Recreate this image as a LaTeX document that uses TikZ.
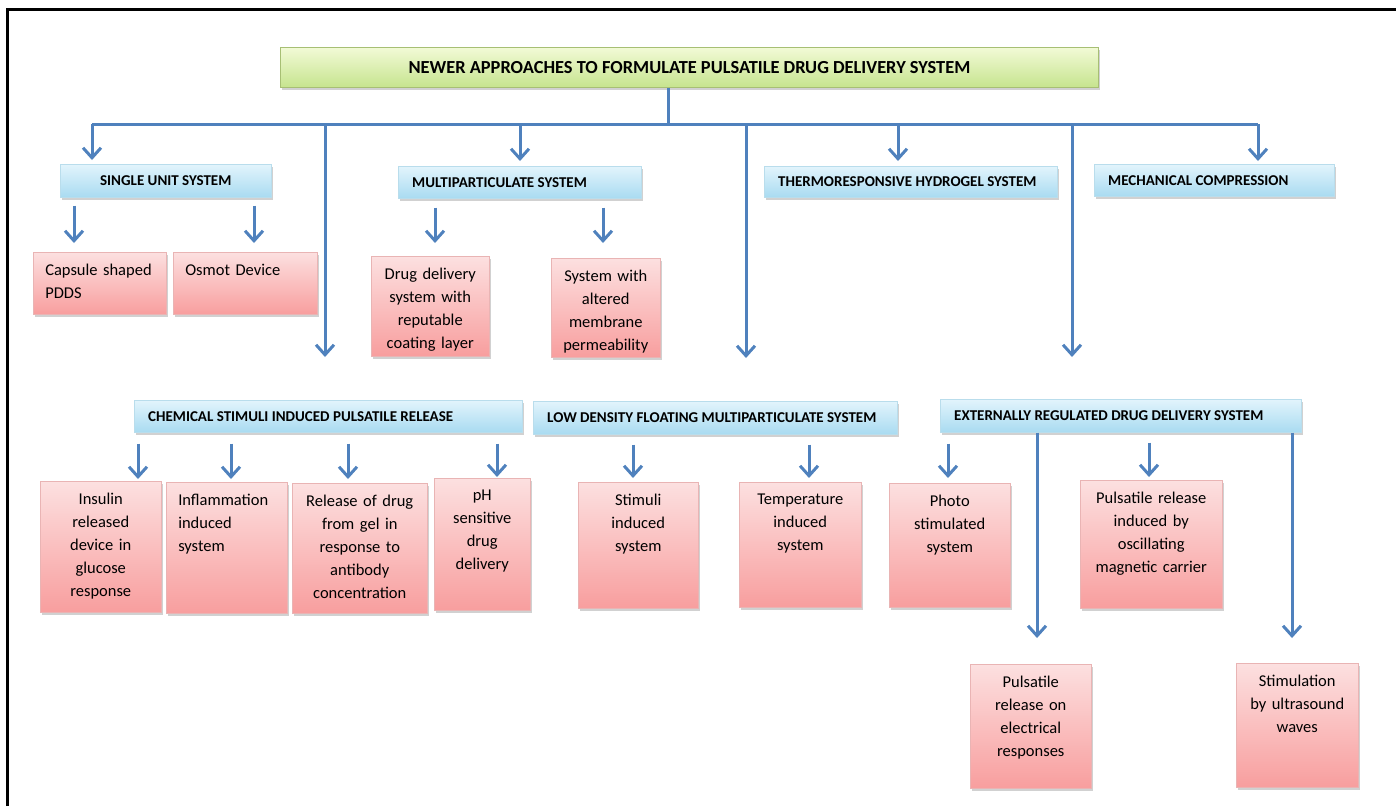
\documentclass[tikz,border=0pt]{standalone}
\usepackage{fontspec}
\setmainfont{Carlito}
\usetikzlibrary{arrows.meta,shadows}
\definecolor{arrowblue}{HTML}{4F81BD}
\definecolor{pinktop}{HTML}{FCE0E0}
\definecolor{pinkbot}{HTML}{F89E9E}
\definecolor{pinkedge}{HTML}{E9B4B4}
\definecolor{bluetop}{HTML}{E2F4FC}
\definecolor{bluebot}{HTML}{A9DBF1}
\definecolor{blueedge}{HTML}{B9DDEC}
\definecolor{greentop}{HTML}{F2FAD6}
\definecolor{greenbot}{HTML}{C6E48E}
\definecolor{greenedge}{HTML}{A7BF74}
\tikzset{
  conn/.style={draw=arrowblue, line width=3pt},
  arr/.style={conn, -{Straight Barb[length=10pt,width=18pt]}},
  boxshadow/.style={drop shadow={shadow xshift=1.5pt,shadow yshift=-2.5pt,opacity=0.3,fill=black!60}},
  pinkbox/.style={anchor=north west, inner sep=0pt, draw=pinkedge, line width=0.5pt,
    top color=pinktop, bottom color=pinkbot, boxshadow},
  bluebox/.style={anchor=north west, inner sep=0pt, draw=blueedge, line width=0.5pt,
    top color=bluetop, bottom color=bluebot, boxshadow},
  titlebox/.style={anchor=north west, inner sep=0pt, draw=greenedge, line width=0.8pt,
    top color=greentop, bottom color=greenbot, boxshadow},
  ptext/.style={inner sep=0pt, font=\fontsize{16.5}{23}\selectfont},
  btext/.style={inner sep=0pt, font=\fontsize{15}{18}\selectfont\bfseries},
  ttext/.style={inner sep=0pt, font=\fontsize{18.4}{22}\selectfont\bfseries},
  frame/.style={draw=black, line width=3pt}
}
% name, x1, y1, x2, y2, text   (centred text)
\newcommand\pinkc[6]{%
  \pgfmathsetmacro\bw{#4-#2}\pgfmathsetmacro\bh{#5-#3}\pgfmathsetmacro\tw{#4-#2-8}%
  \node[pinkbox, minimum width=\bw pt, minimum height=\bh pt] (#1) at (#2,#3) {};
  \node[ptext, text width=\tw pt, align=center, anchor=north] (#1t) at ([yshift=-12pt]#1.north) {#6};
}
% name, x1, y1, x2, y2, text   (left text)
\newcommand\pinkl[6]{%
  \pgfmathsetmacro\bw{#4-#2}\pgfmathsetmacro\bh{#5-#3}\pgfmathsetmacro\tw{#4-#2-24}%
  \node[pinkbox, minimum width=\bw pt, minimum height=\bh pt] (#1) at (#2,#3) {};
  \node[ptext, text width=\tw pt, align=left, anchor=north] (#1t) at ([yshift=-12pt]#1.north) {#6};
}
% name, x1, y1, x2, y2, text   (left text, blue)
\newcommand\bluel[6]{%
  \pgfmathsetmacro\bw{#4-#2}\pgfmathsetmacro\bh{#5-#3}%
  \node[bluebox, minimum width=\bw pt, minimum height=\bh pt] (#1) at (#2,#3) {};
  \node[btext, anchor=west] (#1t) at ([xshift=14pt]#1.west) {#6};
}
\begin{document}
\begin{tikzpicture}[x=1pt,y=-1pt]
\useasboundingbox (0,0) rectangle (1396,806);
% frame (top and left only)
\coordinate (fbl) at (7,806);
\coordinate (ftl) at (7,9);
\coordinate (ftr) at (1396,9);
\draw[frame] (fbl) -- (ftl) -- (ftr);

% title
\node[titlebox, minimum width=818pt, minimum height=40pt] (title) at (280,47) {};
\node[ttext] (titlet) at (title.center) {NEWER APPROACHES TO FORMULATE PULSATILE DRUG DELIVERY SYSTEM};

% first-level boxes
\node[bluebox, minimum width=211pt, minimum height=33pt] (single) at (60,164) {};
\node[btext] (singlet) at (single.center) {SINGLE UNIT SYSTEM};
\bluel{multi}{398}{166}{641}{198}{MULTIPARTICULATE SYSTEM}
\bluel{thermo}{764}{166}{1057}{197}{THERMORESPONSIVE HYDROGEL SYSTEM}
\bluel{mech}{1094}{164}{1334}{196}{MECHANICAL COMPRESSION}
\bluel{chem}{134}{400}{522}{432}{CHEMICAL STIMULI INDUCED PULSATILE RELEASE}
\bluel{lowd}{533}{401}{897}{434}{LOW DENSITY FLOATING MULTIPARTICULATE SYSTEM}
\bluel{ext}{940}{399}{1301}{432}{EXTERNALLY REGULATED DRUG DELIVERY SYSTEM}

% pink boxes, row 1
\pinkl{caps}{33}{252}{166}{314}{Capsule shaped\\PDDS}
\pinkl{osmot}{173}{252}{317}{314}{Osmot Device}
\pinkc{drug}{371}{256}{489}{356}{Drug delivery\\system with\\reputable\\coating layer}
\pinkc{sysalt}{551}{258}{660}{357}{System with\\altered\\membrane\\permeability}

% pink boxes, row 2
\pinkc{insulin}{40}{481}{161}{612}{Insulin\\released\\device in\\glucose\\response}
\pinkl{inflam}{166}{482}{287}{613}{Inflammation\\induced\\system}
\pinkc{release}{292}{483}{427}{613}{Release of drug\\from gel in\\response to\\antibody\\concentration}
\pinkc{ph}{434}{478}{530}{610}{pH\\sensitive\\drug\\delivery}
\pinkc{stimuli}{578}{482}{698}{608}{Stimuli\\induced\\system}
\pinkc{temp}{739}{482}{861}{607}{Temperature\\induced\\system}
\pinkc{photo}{889}{483}{1010}{607}{Photo\\stimulated\\system}
\pinkc{pulsmag}{1080}{480}{1222}{608}{Pulsatile release\\induced by\\oscillating\\magnetic carrier}
\pinkc{pulselec}{970}{664}{1091}{788}{Pulsatile\\release on\\electrical\\responses}
\pinkc{ultra}{1236}{663}{1358}{787}{Stimulation\\by ultrasound\\waves}

% bus from title
\coordinate (bus) at (668,124);
\coordinate (k1) at (92,124);
\coordinate (k2) at (325,124);
\coordinate (k3) at (520,124);
\coordinate (k4) at (746,124);
\coordinate (k5) at (898,124);
\coordinate (k6) at (1072,124);
\coordinate (k7) at (1258,124);
\draw[conn] (title.south -| bus) -- (bus);
\draw[conn] (k1) -- (k7);
\draw[arr, shorten >=4pt] (k1) -- (k1 |- single.north);
\draw[arr, shorten >=43pt] (k2) -- (k2 |- chem.north);
\draw[arr, shorten >=5pt] (k3) -- (k3 |- multi.north);
\draw[arr, shorten >=43pt] (k4) -- (k4 |- lowd.north);
\draw[arr, shorten >=5pt] (k5) -- (k5 |- thermo.north);
\draw[arr, shorten >=42pt] (k6) -- (k6 |- ext.north);
\draw[arr, shorten >=3pt] (k7) -- (k7 |- mech.north);

% arrows to row-1 pink boxes
\coordinate (p1) at (74,0);
\coordinate (p2) at (254,0);
\coordinate (p3) at (435,0);
\coordinate (p4) at (603,0);
\draw[arr, shorten <=8pt, shorten >=9pt] (single.south -| p1) -- (caps.north -| p1);
\draw[arr, shorten <=8pt, shorten >=9pt] (single.south -| p2) -- (osmot.north -| p2);
\draw[arr, shorten <=9pt, shorten >=13pt] (multi.south -| p3) -- (drug.north -| p3);
\draw[arr, shorten <=9pt, shorten >=15pt] (multi.south -| p4) -- (sysalt.north -| p4);

% arrows to row-2 pink boxes
\coordinate (r1) at (138,0);
\coordinate (r2) at (231,0);
\coordinate (r3) at (348,0);
\coordinate (r4) at (497,0);
\coordinate (r5) at (633,0);
\coordinate (r6) at (809,0);
\coordinate (r7) at (948,0);
\coordinate (r8) at (1149,0);
\coordinate (q1) at (1037,0);
\coordinate (q2) at (1292,0);
\draw[arr, shorten <=11pt, shorten >=2pt] (chem.south -| r1) -- (insulin.north -| r1);
\draw[arr, shorten <=11pt, shorten >=3pt] (chem.south -| r2) -- (inflam.north -| r2);
\draw[arr, shorten <=11pt, shorten >=4pt] (chem.south -| r3) -- (release.north -| r3);
\draw[arr, shorten <=11pt, shorten >=1pt] (chem.south -| r4) -- (ph.north -| r4);
\draw[arr, shorten <=10pt, shorten >=4pt] (lowd.south -| r5) -- (stimuli.north -| r5);
\draw[arr, shorten <=10pt, shorten >=4pt] (lowd.south -| r6) -- (temp.north -| r6);
\draw[arr, shorten <=11pt, shorten >=5pt] (ext.south -| r7) -- (photo.north -| r7);
\draw[arr, shorten <=10pt, shorten >=3pt] (ext.south -| r8) -- (pulsmag.north -| r8);
\draw[arr, shorten >=26pt] (ext.south -| q1) -- (pulselec.north -| q1);
\draw[arr, shorten >=25pt] (ext.south -| q2) -- (ultra.north -| q2);
\end{tikzpicture}
\end{document}
